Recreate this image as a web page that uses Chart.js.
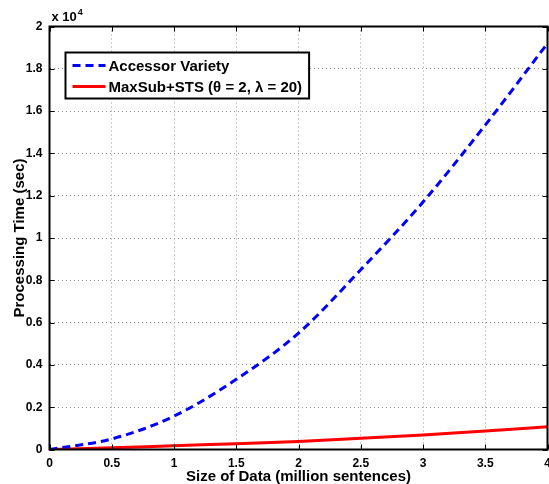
<!DOCTYPE html>
<html>
<head>
<meta charset="utf-8">
<script src="https://cdn.jsdelivr.net/npm/chart.js@4"></script>
<style>
html, body { margin: 0; padding: 0; background: #fff; }
#wrap { width: 549px; height: 484px; position: relative; }
</style>
</head>
<body>
<div id="wrap"><canvas id="timeChart"></canvas></div>
<script>
// sizes of data, million sentences
var dataSizes = [0, 0.5, 1, 1.5, 2, 2.5, 3, 3.5, 4];
// processing time in seconds
var accessorVariety = [0, 500, 1580, 3320, 5500, 8500, 11700, 15340, 19200];
var maxSubSts = [0, 80, 180, 270, 380, 530, 690, 870, 1070];
var seriesNames = ["Accessor Variety", "MaxSub+STS (\u03b8 = 2, \u03bb = 20)"];
var xTickValues = [0, 0.5, 1, 1.5, 2, 2.5, 3, 3.5, 4];
var yTickValues = [0, 2000, 4000, 6000, 8000, 10000, 12000, 14000, 16000, 18000, 20000];

var FONT = "'Liberation Sans', Arial, Helvetica, sans-serif";

function toPoints(xs, ys) {
    var pts = [];
    for (var i = 0; i < xs.length; i++) {
        pts.push({x: xs[i], y: ys[i]});
    }
    return pts;
}

function fmtNum(v) {
    return String(+v.toFixed(2));
}

// box, inward ticks, exponent label and legend, drawn the matlab way
var framePlugin = {
    id: 'frame',
    afterDraw: function (chart) {
        var ctx = chart.ctx;
        var a = chart.chartArea;
        var xs = chart.scales.x;
        var ys = chart.scales.y;
        ctx.save();
        ctx.strokeStyle = '#000';
        ctx.lineWidth = 1;
        ctx.beginPath();
        xTickValues.forEach(function (v) {
            var px = Math.round(xs.getPixelForValue(v)) + 0.5;
            ctx.moveTo(px, a.bottom); ctx.lineTo(px, a.bottom - 5);
            ctx.moveTo(px, a.top); ctx.lineTo(px, a.top + 5);
        });
        yTickValues.forEach(function (v) {
            var py = Math.round(ys.getPixelForValue(v)) + 0.5;
            ctx.moveTo(a.left, py); ctx.lineTo(a.left + 5, py);
            ctx.moveTo(a.right, py); ctx.lineTo(a.right - 5, py);
        });
        ctx.stroke();

        ctx.lineWidth = 2;
        ctx.strokeRect(a.left, a.top, a.right - a.left, a.bottom - a.top);

        // exponent
        ctx.fillStyle = '#000';
        ctx.textBaseline = 'alphabetic';
        ctx.textAlign = 'left';
        ctx.font = 'bold 13px ' + FONT;
        ctx.fillText('x 10', a.left + 2, a.top - 6);
        var w = ctx.measureText('x 10').width;
        ctx.font = 'bold 9px ' + FONT;
        ctx.fillText('4', a.left + 2 + w + 1, a.top - 12);

        // legend
        ctx.font = 'bold 15px ' + FONT;
        var maxW = 0;
        chart.data.datasets.forEach(function (ds) {
            maxW = Math.max(maxW, ctx.measureText(ds.label).width);
        });
        var lx = a.left + 16, ly = a.top + 26;
        var lw = maxW + 50, lh = 46;
        ctx.fillStyle = '#fff';
        ctx.fillRect(lx, ly, lw, lh);
        ctx.lineWidth = 2;
        ctx.strokeStyle = '#000';
        ctx.strokeRect(lx, ly, lw, lh);
        chart.data.datasets.forEach(function (ds, i) {
            var ry = ly + 13 + i * 21;
            ctx.save();
            ctx.strokeStyle = ds.borderColor;
            ctx.lineWidth = 3;
            ctx.setLineDash(ds.borderDash || []);
            ctx.beginPath();
            ctx.moveTo(lx + 7, ry);
            ctx.lineTo(lx + 40, ry);
            ctx.stroke();
            ctx.restore();
            ctx.fillStyle = '#000';
            ctx.textBaseline = 'middle';
            ctx.fillText(ds.label, lx + 43, ry + 1);
        });
        ctx.restore();
    }
};

var chartElem = document.getElementById('timeChart');
var timeChart = new Chart(chartElem, {
    type: 'line',
    data: {
        datasets: [
            {
                label: seriesNames[0],
                data: toPoints(dataSizes, accessorVariety),
                borderColor: '#0000ff',
                borderWidth: 3,
                borderDash: [8, 5],
                pointRadius: 0,
                fill: false,
                cubicInterpolationMode: 'monotone'
            },
            {
                label: seriesNames[1],
                data: toPoints(dataSizes, maxSubSts),
                borderColor: '#ff0000',
                borderWidth: 3,
                pointRadius: 0,
                fill: false,
                cubicInterpolationMode: 'monotone'
            }
        ]
    },
    options: {
        responsive: true,
        maintainAspectRatio: false,
        animation: false,
        layout: {padding: {top: 26.5, right: 1.5, left: 0, bottom: 0}},
        plugins: {legend: {display: false}, tooltip: {enabled: false}},
        scales: {
            x: {
                type: 'linear',
                min: 0,
                max: 4,
                afterBuildTicks: function (scale) {
                    scale.ticks = xTickValues.map(function (v) { return {value: v}; });
                },
                afterFit: function (scale) {
                    scale.height = 34.5;
                    scale.paddingLeft = 0;
                    scale.paddingRight = 0;
                },
                ticks: {
                    color: '#000',
                    padding: 7,
                    maxRotation: 0,
                    font: {family: FONT, size: 12, weight: 'bold'},
                    callback: function (v) { return fmtNum(v); }
                },
                grid: {color: '#999999', lineWidth: 1, drawTicks: false},
                border: {display: false, dash: [1, 3]},
                title: {
                    display: true,
                    text: 'Size of Data (million sentences)',
                    color: '#000',
                    padding: 0,
                    font: {family: FONT, size: 15, weight: 'bold', lineHeight: 1}
                }
            },
            y: {
                min: 0,
                max: 20000,
                afterBuildTicks: function (scale) {
                    scale.ticks = yTickValues.map(function (v) { return {value: v}; });
                },
                afterFit: function (scale) {
                    scale.width = 49.5;
                    scale.paddingTop = 0;
                    scale.paddingBottom = 0;
                },
                ticks: {
                    color: '#000',
                    padding: 7,
                    font: {family: FONT, size: 12, weight: 'bold'},
                    callback: function (v) { return fmtNum(v / 10000); }
                },
                grid: {color: '#999999', lineWidth: 1, drawTicks: false},
                border: {display: false, dash: [1, 3]},
                title: {
                    display: true,
                    text: 'Processing Time (sec)',
                    color: '#000',
                    padding: {top: 11, bottom: 0},
                    font: {family: FONT, size: 15, weight: 'bold'}
                }
            }
        }
    },
    plugins: [framePlugin]
});
</script>
</body>
</html>
